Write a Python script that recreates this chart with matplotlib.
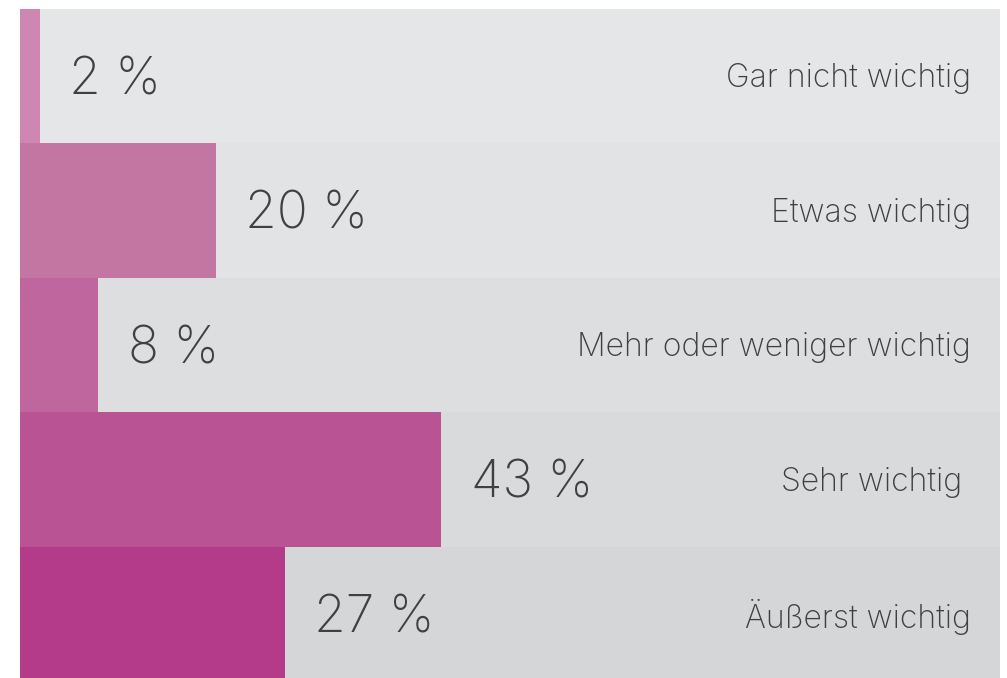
import matplotlib.pyplot as plt

categories = ["Gar nicht wichtig", "Etwas wichtig", "Mehr oder weniger wichtig",
              "Sehr wichtig ", "Äußerst wichtig"]
values = [2, 20, 8, 43, 27]
bar_colors = ["#cd87b0", "#c476a3", "#c0669e", "#ba5393", "#b33b89"]
bg_colors = ["#e5e6e8", "#e2e3e5", "#dddee0", "#d9dadc", "#d5d6d8"]

plt.rcParams['font.family'] = ['Inter', 'DejaVu Sans']

fig = plt.figure(figsize=(10.07, 6.78), dpi=100)
ax = fig.add_axes([20 / 1007, -3 / 678, 980 / 1007, 672 / 678])

ys = list(range(len(categories)))
ax.barh(ys, [100] * len(ys), height=1.0, color=bg_colors, linewidth=0)
ax.barh(ys, values, height=1.0, color=bar_colors, linewidth=0)

for y, v, label in zip(ys, values, categories):
    ax.annotate(f"{v} %", (v, y), xytext=(21, -3.5), textcoords="offset points",
                ha="left", va="center", fontsize=37, color="#404040",
                fontweight="light")
    ax.annotate(label, (100, y), xytext=(-21, -2), textcoords="offset points",
                ha="right", va="center", fontsize=23, color="#404040",
                fontweight="light")

ax.set_xlim(0, 100)
ax.set_ylim(len(ys) - 0.5, -0.5)
ax.axis('off')

fig.savefig("out.png", dpi=100)
